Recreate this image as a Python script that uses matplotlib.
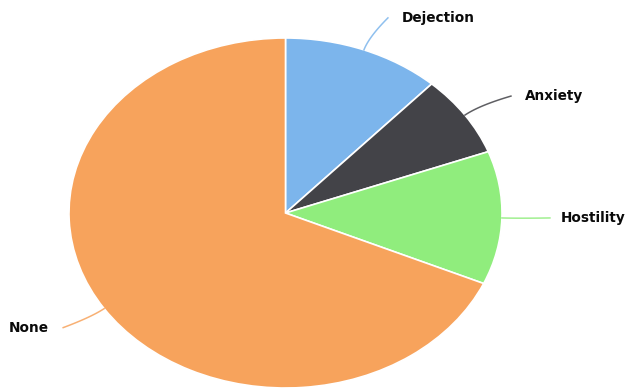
import numpy as np
import matplotlib.pyplot as plt

# Datos del gráfico
labels = ['Dejection', 'Anxiety', 'Hostility', 'None']
values = [11.8, 7.5, 12.3, 68.4]
colors = ['#7cb5ec', '#434348', '#90ed7d', '#f7a35c']

# Posición de cada etiqueta en píxeles relativos al borde (dx, dy hacia abajo)
label_offsets = [(24, -32), (46, -19), (48, 0), (-41, 19)]
label_gaps = [14, 14, 11, 14]  # distancia entre fin del conector y el texto

W, H = 628, 390
rx, ry = 216.5, 175.0
cx, cy = 285.5, 213.0

fig = plt.figure(figsize=(W / 100, H / 100), dpi=100)
ax = fig.add_axes([(cx - rx) / W, (H - cy - ry) / H, 2 * rx / W, 2 * ry / H])

wedges, _ = ax.pie(values, colors=colors, startangle=90, counterclock=False,
                   wedgeprops=dict(edgecolor='white', linewidth=1.2))
ax.set_aspect('auto')
ax.set_xlim(-1, 1)
ax.set_ylim(-1, 1)
ax.axis('off')

for w, lab, col, (dx, dy), gap in zip(wedges, labels, colors, label_offsets, label_gaps):
    mid = np.deg2rad((w.theta1 + w.theta2) / 2)
    sx, sy = np.cos(mid), np.sin(mid)
    ex, ey = sx + dx / rx, sy - dy / ry
    # punto de control en dirección radial para un conector suave
    dist = np.hypot(dx, dy)
    kx, ky = sx + np.cos(mid) * 0.35 * dist / rx, sy + np.sin(mid) * 0.35 * dist / ry
    t = np.linspace(0, 1, 30)
    bx = (1 - t) ** 2 * sx + 2 * (1 - t) * t * kx + t ** 2 * ex
    by = (1 - t) ** 2 * sy + 2 * (1 - t) * t * ky + t ** 2 * ey
    ax.plot(bx, by, color=col, lw=1.1, alpha=0.85, clip_on=False)
    if dx >= 0:
        ax.text(ex + gap / rx, ey, lab, ha='left', va='center',
                fontsize=9.8, fontweight='bold', color='#0a0a0a', clip_on=False)
    else:
        ax.text(ex - gap / rx, ey, lab, ha='right', va='center',
                fontsize=9.8, fontweight='bold', color='#0a0a0a', clip_on=False)

fig.savefig('out.png', dpi=100)
